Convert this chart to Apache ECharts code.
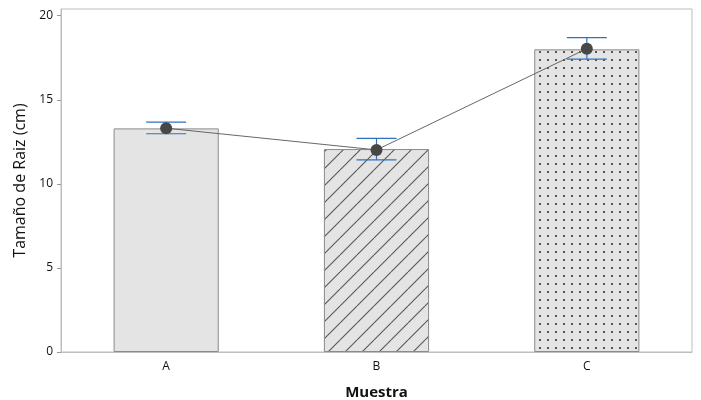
<!DOCTYPE html>
<html>
<head>
<meta charset="utf-8">
<script src="https://cdn.jsdelivr.net/npm/echarts@6/dist/echarts.min.js"></script>
<style>html,body{margin:0;padding:0;background:#fff;}#c{width:701px;height:400px;}</style>
</head>
<body>
<div id="c"></div>
<script>
var categories = ['A', 'B', 'C'];
var barValues = [13.3, 12.07, 18.0];
var meanValues = [13.31, 12.02, 18.04];
var errLow = [12.98, 11.43, 17.42];
var errHigh = [13.67, 12.70, 18.70];
var yTicks = [0, 5, 10, 15, 20];

function makeDiag() {
  var s = 17, c = document.createElement('canvas');
  c.width = s; c.height = s;
  var g = c.getContext('2d');
  g.fillStyle = '#e4e4e4'; g.fillRect(0, 0, s, s);
  g.strokeStyle = '#555'; g.lineWidth = 1.1;
  [-s, 0, s].forEach(function (k) {
    g.beginPath(); g.moveTo(k, s); g.lineTo(k + s, 0); g.stroke();
  });
  return c;
}
function makeDots() {
  var s = 8, c = document.createElement('canvas');
  c.width = s; c.height = s;
  var g = c.getContext('2d');
  g.fillStyle = '#e4e4e4'; g.fillRect(0, 0, s, s);
  g.fillStyle = '#555'; g.fillRect(3, 3, 2, 2);
  return c;
}
var fills = ['#e4e4e4', {image: makeDiag(), repeat: 'repeat'}, {image: makeDots(), repeat: 'repeat'}];

var chart = echarts.init(document.getElementById('c'));
var font = '"Open Sans", "Noto Sans", sans-serif';
chart.setOption({
  animation: false,
  textStyle: {fontFamily: font},
  grid: {left: 61, right: 9, top: 9, bottom: 48, show: true, borderColor: '#bdbdbd', borderWidth: 1,
         backgroundColor: 'transparent', containLabel: false, outerBoundsMode: 'none'},
  xAxis: {
    type: 'category', data: categories,
    name: 'Muestra', nameLocation: 'middle', nameGap: 33,
    nameTextStyle: {fontSize: 15, color: '#111', fontFamily: font, fontWeight: 'bold'},
    axisLine: {lineStyle: {color: '#bdbdbd'}},
    axisTick: {alignWithLabel: true, length: 4, lineStyle: {color: '#999'}},
    axisLabel: {fontSize: 12, color: '#111', margin: 9, fontFamily: font}
  },
  yAxis: {
    type: 'value', min: 0, max: 20.4, interval: 5,
    name: 'Tamaño de Raiz (cm)', nameLocation: 'middle', nameGap: 29,
    nameTextStyle: {fontSize: 16, color: '#111', fontFamily: font},
    axisLine: {show: true, lineStyle: {color: '#bdbdbd'}},
    axisTick: {show: true, length: 4, lineStyle: {color: '#999'}, customValues: yTicks},
    axisLabel: {fontSize: 12, color: '#111', margin: 8, fontFamily: font, customValues: yTicks},
    splitLine: {show: false}
  },
  series: [
    {
      type: 'bar', barWidth: '50%', z: 2,
      data: barValues.map(function (v, i) {
        return {value: v, itemStyle: {color: fills[i], borderColor: '#8a8a8a', borderWidth: 1}};
      })
    },
    {
      type: 'custom', z: 3,
      data: categories.map(function (c, i) { return [i, errLow[i], errHigh[i]]; }),
      renderItem: function (params, api) {
        var lo = api.coord([api.value(0), api.value(1)]);
        var hi = api.coord([api.value(0), api.value(2)]);
        var hw = 20;
        var st = {stroke: '#2f72c0', lineWidth: 1.2};
        return {type: 'group', children: [
          {type: 'line', shape: {x1: lo[0], y1: lo[1], x2: hi[0], y2: hi[1]}, style: st},
          {type: 'line', shape: {x1: lo[0] - hw, y1: lo[1], x2: lo[0] + hw, y2: lo[1]}, style: st},
          {type: 'line', shape: {x1: hi[0] - hw, y1: hi[1], x2: hi[0] + hw, y2: hi[1]}, style: st}
        ]};
      }
    },
    {
      type: 'line', z: 4, data: meanValues,
      symbol: 'circle', symbolSize: 12,
      itemStyle: {color: '#474747'},
      lineStyle: {color: '#666', width: 1}
    }
  ]
});
</script>
</body>
</html>
